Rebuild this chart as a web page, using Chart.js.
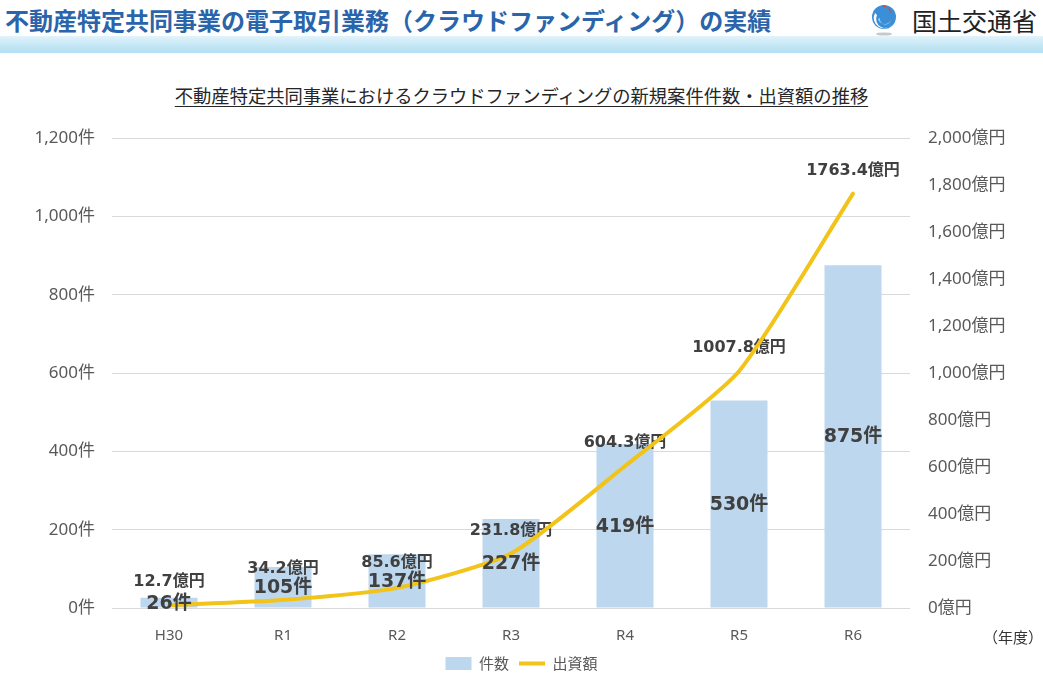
<!DOCTYPE html>
<html><head><meta charset="utf-8">
<script src="https://cdn.jsdelivr.net/npm/chart.js@4"></script>
<style>
html,body{margin:0;padding:0;width:1043px;height:676px;overflow:hidden;background:#fff;}
#hdr{position:absolute;left:5px;top:3px;font:bold 24px "Noto Sans CJK JP",sans-serif;color:#2a64aa;white-space:nowrap;line-height:34px;}
#band{position:absolute;left:0;top:36px;width:1043px;height:17px;background:linear-gradient(#e2f3fb,#c4e7f5 55%,#b3dff2);}
#logoTxt{position:absolute;left:912px;top:3px;font:25px "Noto Sans CJK JP",sans-serif;color:#222;line-height:34px;white-space:nowrap;}
#logo{position:absolute;left:870px;top:3px;}
#sub{position:absolute;left:0;width:1043px;top:80px;text-align:center;font:18.3px "Noto Sans CJK JP",sans-serif;color:#262626;line-height:30px;}
#sub span{text-decoration:underline;text-underline-offset:3px;text-decoration-thickness:1px;}
#nendo{position:absolute;left:983px;top:626px;font:15px "Noto Sans CJK JP",sans-serif;color:#333;}
#c{position:absolute;left:0;top:6px;}
</style></head>
<body>
<div id="hdr">不動産特定共同事業の電子取引業務（クラウドファンディング）の実績</div>
<svg id="logo" width="32" height="34" viewBox="0 0 32 34">
  <ellipse cx="14" cy="31" rx="8" ry="1.6" fill="#c8c8c8"/>
  <circle cx="14" cy="14" r="12" fill="#3b8fd6"/>
  <path d="M5 10 A10 10 0 0 0 23 20 A8 8 0 0 1 7 12 Z" fill="#ffffff"/>
  <path d="M8 16 A7 7 0 0 0 21 17 A5 5 0 0 1 10 15 Z" fill="#9fd0f2"/>
  <path d="M12 2 A8 8 0 0 1 20 11 A5 5 0 0 0 14 4 Z" fill="#e53935"/>
</svg>
<div id="logoTxt">国土交通省</div>
<div id="band"></div>
<div id="sub"><span>不動産特定共同事業におけるクラウドファンディングの新規案件件数・出資額の推移</span></div>
<canvas id="c" width="1043" height="676"></canvas>
<div id="nendo">（年度）</div>
<script>
const categories = ['H30','R1','R2','R3','R4','R5','R6'];
const caseCounts = [26, 105, 137, 227, 419, 530, 875];
const investAmounts = [12.7, 34.2, 85.6, 231.8, 604.3, 1007.8, 1763.4];
const countLabel = '件数';
const amountLabel = '出資額';

const labelColor = '#404040';
function barLabelY(bar) { return (bar.y + bar.base) / 2 + 1; }
const labelPlugin = {
  id: 'valueLabels',
  beforeDatasetDraw(chart, args) {
    const ds = chart.data.datasets[args.index];
    if (ds.type !== 'line') return;
    const barMeta = chart.getDatasetMeta(0);
    const ctx = chart.ctx;
    ctx.save();
    ctx.font = "bold 16px 'DejaVu Sans','Noto Sans CJK JP',sans-serif";
    ctx.fillStyle = labelColor;
    ctx.textAlign = 'center';
    ctx.textBaseline = 'middle';
    args.meta.data.forEach((pt, i) => {
      const bar = barMeta.data[i];
      const y = Math.min(pt.y - 23, barLabelY(bar) - 19);
      ctx.fillText(ds.data[i].toFixed(1) + '億円', pt.x, y);
    });
    ctx.restore();
  },
  afterDatasetsDraw(chart) {
    const ctx = chart.ctx;
    chart.data.datasets.forEach((ds, di) => {
      if (ds.type !== 'bar') return;
      const meta = chart.getDatasetMeta(di);
      ctx.save();
      ctx.font = "bold 19px 'DejaVu Sans','Noto Sans CJK JP',sans-serif";
      ctx.fillStyle = labelColor;
      ctx.textAlign = 'center';
      ctx.textBaseline = 'middle';
      meta.data.forEach((bar, i) => {
        ctx.fillText(ds.data[i] + '件', bar.x, barLabelY(bar));
      });
      ctx.restore();
    });
  }
};

new Chart(document.getElementById('c'), {
  data: {
    labels: categories,
    datasets: [
      { type: 'bar', label: countLabel, data: caseCounts, yAxisID: 'yL', order: 2,
        backgroundColor: '#bdd7ee', barPercentage: 0.5, categoryPercentage: 1.0 },
      { type: 'line', label: amountLabel, data: investAmounts, yAxisID: 'yR', order: 1,
        borderColor: '#f2c318', backgroundColor: '#f2c318', borderWidth: 4,
        pointRadius: 0, tension: 0.2, pointStyle: 'line', borderCapStyle: 'round' }
    ]
  },
  options: {
    responsive: false,
    animation: false,
    layout: { padding: { top: 132, left: 0, right: 0, bottom: 1 } },
    plugins: {
      tooltip: { enabled: false },
      legend: {
        position: 'bottom',
        labels: {
          usePointStyle: true, pointStyleWidth: 26, boxHeight: 13, padding: 10,
          color: '#595959', font: { size: 15, family: "'Noto Sans CJK JP',sans-serif" },
          sort: (a, b) => a.datasetIndex - b.datasetIndex,
          generateLabels(chart) {
            return chart.data.datasets.map((ds, i) => ({
              text: ds.label, datasetIndex: i,
              fillStyle: ds.type === 'bar' ? ds.backgroundColor : ds.borderColor,
              strokeStyle: ds.type === 'bar' ? ds.backgroundColor : ds.borderColor,
              lineWidth: ds.type === 'bar' ? 0 : 4,
              pointStyle: ds.type === 'bar' ? 'rect' : 'line',
              fontColor: '#595959', hidden: false
            }));
          }
        }
      }
    },
    scales: {
      x: {
        grid: { display: false, drawTicks: false }, border: { display: false },
        ticks: { padding: 19, color: '#595959', font: { size: 15, family: "'Noto Sans',sans-serif" } },
        afterFit(s) { s.height = 38; }
      },
      yL: {
        position: 'left', min: 0, max: 1200,
        grid: { color: '#d9d9d9', drawTicks: false }, border: { display: false },
        ticks: { stepSize: 200, padding: 17, color: '#595959',
          font: { size: 17, family: "'Noto Sans','Noto Sans CJK JP',sans-serif" },
          callback: v => v.toLocaleString('en-US') + '件' },
        afterFit(s) { s.width = 112; }
      },
      yR: {
        position: 'right', min: 0, max: 2000,
        grid: { display: false, drawTicks: false }, border: { display: false },
        ticks: { stepSize: 200, padding: 18, color: '#595959',
          font: { size: 17, family: "'Noto Sans','Noto Sans CJK JP',sans-serif" },
          callback: v => v.toLocaleString('en-US') + '億円' },
        afterFit(s) { s.width = 133; }
      }
    }
  },
  plugins: [labelPlugin]
});
</script>
</body></html>
